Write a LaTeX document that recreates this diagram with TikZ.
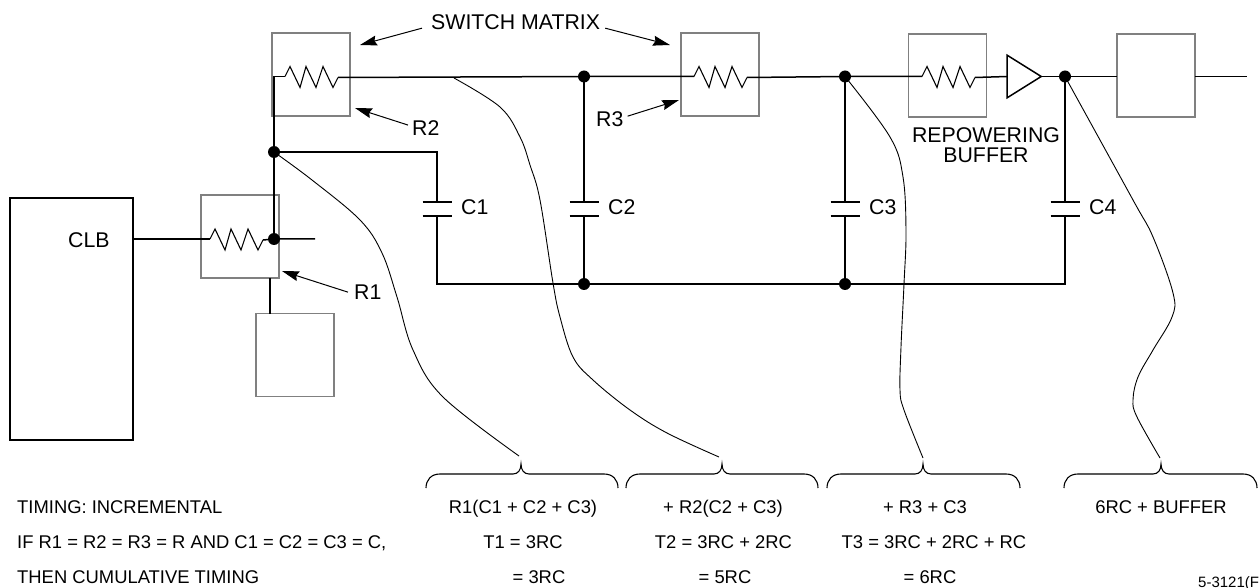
\documentclass[tikz,border=0pt]{standalone}
\usepackage{fontspec}
\setmainfont{Liberation Sans}
\usetikzlibrary{arrows.meta,calc,shapes.geometric}
\definecolor{boxgray}{HTML}{808080}
\tikzset{
	wire/.style={line width=1.5pt, color=black},
	leader/.style={line width=0.9pt, color=black},
	swbox/.style={draw=boxgray, line width=1.5pt, minimum width=78pt, minimum height=83pt, inner sep=0pt, outer sep=0pt},
	junction/.style={circle, fill=black, minimum size=12pt, inner sep=0pt, outer sep=0pt},
	plate/.style={line width=1.5pt},
	pointer/.style={line width=1pt, -{Stealth[length=17pt,width=10pt,inset=2pt]}},
	lbl/.style={anchor=base, inner sep=0pt, font=\fontsize{21.3}{21.3}\selectfont},
	lblleft/.style={lbl, anchor=base west},
	timing/.style={anchor=base, inner sep=0pt, font=\fontsize{18.4}{18.4}\selectfont},
	timingleft/.style={timing, anchor=base west}
}
% zigzag starts at the left lead and ends at (#1r)
\def\resistor(#1)(#2,#3){\draw[line width=1.1pt] (#2,#3) coordinate (#1l) -- ++(5,-10) -- ++(10,21) -- ++(6,-21) -- ++(10,21) -- ++(7,-21) -- ++(10,21) -- ++(5,-10) coordinate (#1r);}
\def\capacitor(#1)(#2){
	\coordinate (#1t) at (#2,202);
	\coordinate (#1b) at (#2,216);
	\draw[plate] ($(#1t)+(-14.5,0)$) -- ($(#1t)+(14.5,0)$);
	\draw[plate] ($(#1b)+(-14.5,0)$) -- ($(#1b)+(14.5,0)$);
}
\def\timingbrace(#1:#2:#3){\draw[line width=1.1pt] (#1,488) .. controls (#1,480) and ({#1+5},474) .. ({#1+14},474) -- ({#2-8},474) .. controls ({#2-3},474) and (#2,470) .. (#2,464) .. controls (#2,470) and ({#2+3},474) .. ({#2+8},474) -- ({#3-14},474) .. controls ({#3-5},474) and (#3,480) .. (#3,488);}
\begin{document}
\begin{tikzpicture}[x=1pt,y=-1pt]
	%%%%% FRAME %%%%%
	\useasboundingbox (0,0) rectangle (1259,588);

	%%%%% BOXES %%%%%
	\node[swbox] (sw1) at (311,74.5) {};
	\node[swbox] (sw2) at (720,74.5) {};
	\node[swbox] (sw3) at (947.5,75.5) {};
	\node[swbox] (sw4) at (1156,75.5) {};
	\node[swbox] (sw5) at (240,236.5) {};
	\node[swbox] (sw6) at (295,355) {};
	\node[draw, line width=2pt, minimum width=123pt, minimum height=242pt, inner sep=0pt, outer sep=0pt] (clb) at (71.5,319) {};

	%%%%% JUNCTIONS %%%%%
	\node[junction] (ja) at (274,239) {};
	\node[junction] (jb) at (274,152) {};
	\node[junction] (jc) at (584,76.5) {};
	\node[junction] (jd) at (845,76.5) {};
	\node[junction] (je) at (1065,76.5) {};
	\node[junction] (jf) at (584,284) {};
	\node[junction] (jg) at (845,284) {};

	%%%%% RESISTORS %%%%%
	\resistor(ra)(210,239)
	\resistor(rb)(285,76.5)
	\resistor(rc)(694,76.5)
	\resistor(rd)(922,76.5)

	%%%%% CAPACITORS %%%%%
	\capacitor(ca)(437)
	\capacitor(cb)(584)
	\capacitor(cc)(845)
	\capacitor(cd)(1065)

	%%%%% BUFFER %%%%%
	\node[draw, wire, isosceles triangle, isosceles triangle apex angle=64, minimum height=34pt, minimum width=42pt, inner sep=0pt, outer sep=0pt] (buf) at (1019,76.5) {};

	%%%%% WIRES %%%%%
	\coordinate (clbout) at (clb.east |- ral);
	\coordinate (aout) at (315,239);
	\coordinate (bcorner) at (cat |- jb);
	\coordinate (bend) at (274,76.5);
	\coordinate (stub) at (270,278);
	\coordinate (hookb) at (cab |- jf);
	\coordinate (hooke) at (cdb |- jf);
	\coordinate (tail) at (1247,76.5);
	\draw[wire] (clbout) -- (ral);
	\draw[wire] (rar) -- (ja) -- (aout);
	\draw[wire] (ja) -- (jb) -- (bend) -- (rbl);
	\draw[wire] (jb) -- (bcorner) -- (cat);
	\draw[wire] (cab) -- (hookb) -- (jf) -- (jg) -- (hooke) -- (cdb);
	\draw[wire] (rbr) -- (jc) -- (rcl);
	\draw[wire] (rcr) -- (jd) -- (rdl);
	\draw[wire] (rdr) -- (buf.west);
	\draw[wire] (buf.east) -- (je) -- (sw4.west |- je);
	\draw[wire] (sw4.east |- tail) -- (tail);
	\draw[wire] (jc) -- (cbt);
	\draw[wire] (cbb) -- (jf);
	\draw[wire] (jd) -- (cct);
	\draw[wire] (ccb) -- (jg);
	\draw[wire] (je) -- (cdt);
	\draw[wire] (stub) -- (stub |- sw6.north);

	%%%%% LEADERS %%%%%
	\coordinate (la) at (519,456);
	\coordinate (lb) at (719,457);
	\coordinate (lc) at (923,458);
	\coordinate (ld) at (1160,458);
	\coordinate (lbstart) at (454,78);
	\draw[leader] plot[smooth, tension=0.6] coordinates {(jb) (312,180) (360,220) (382,253) (397,297) (413,350) (443,397) (la)};
	\draw[leader] plot[smooth, tension=0.6] coordinates {(lbstart) (500,107) (520,137) (530,165) (540,200) (553,283) (560,317) (573,357) (593,380) (630,410) (667,433) (lb)};
	\draw[leader] plot[smooth, tension=0.6] coordinates {(jd) (890,137) (903,177) (906,232) (904,284) (901,347) (900,390) (904,410) (lc)};
	\draw[leader] plot[smooth, tension=0.6] coordinates {(je) (1133,200) (1153,237) (1173,293) (1172,317) (1153,350) (1138,377) (1133,400) (1137,417) (ld)};

	%%%%% BRACES %%%%%
	\timingbrace(426:521:618)
	\timingbrace(626:722:818)
	\timingbrace(827:923:1020)
	\timingbrace(1064:1161:1257)

	%%%%% LABELS %%%%%
	\node[lblleft] (swlbl) at (431,30) {SWITCH MATRIX};
	\node[lblleft] (clblbl) at (68,248) {CLB};
	\node[lblleft] (r1lbl) at (354,299) {R1};
	\node[lblleft] (r2lbl) at (412,136) {R2};
	\node[lblleft] (r3lbl) at (596,127) {R3};
	\node[lblleft] (c1lbl) at (461,215) {C1};
	\node[lblleft] (c2lbl) at (608,215) {C2};
	\node[lblleft] (c3lbl) at (869,215) {C3};
	\node[lblleft] (c4lbl) at (1089,215) {C4};
	\node[lbl] (rplbl) at (986,143) {REPOWERING};
	\node[lbl] (bflbl) at (986,163) {BUFFER};

	\node[timingleft] (timea) at (17,513) {TIMING: INCREMENTAL};
	\node[timingleft] (timeb) at (17,548) {IF R1 = R2 = R3 = R AND C1 = C2 = C3 = C,};
	\node[timingleft] (timec) at (17,583) {THEN CUMULATIVE TIMING};
	\node[timing] (ta) at (523,513) {R1(C1 + C2 + C3)};
	\node[timing] (tb) at (723,513) {+ R2(C2 + C3)};
	\node[timing] (tc) at (925,513) {+ R3 + C3};
	\node[timing] (td) at (1161,513) {6RC + BUFFER};
	\node[timing] (ua) at (523,548) {T1 = 3RC};
	\node[timing] (ub) at (723.5,548) {T2 = 3RC + 2RC};
	\node[timing] (uc) at (934,548) {T3 = 3RC + 2RC + RC};
	\node[timing] (va) at (539,583) {= 3RC};
	\node[timing] (vb) at (725,583) {= 5RC};
	\node[timing] (vc) at (930,583) {= 6RC};
	\node[timingleft, font=\fontsize{15}{15}\selectfont] (figno) at (1198,587) {5-3121(F};

	%%%%% POINTERS %%%%%
	\coordinate (pa) at (360,45);
	\coordinate (pb) at (670,45);
	\coordinate (pc) at (355,108);
	\coordinate (pd) at (679,100);
	\coordinate (pe) at (282,271);
	\draw[pointer] (swlbl.west) ++(-9,5.5) -- (pa);
	\draw[pointer] (swlbl.east) ++(5,5.5) -- (pb);
	\draw[pointer] (r2lbl.west) ++(-4,-3.5) -- (pc);
	\draw[pointer] (r3lbl.east) ++(4,-3.5) -- (pd);
	\draw[pointer] (r1lbl.west) ++(-6,0.5) -- (pe);
\end{tikzpicture}
\end{document}
